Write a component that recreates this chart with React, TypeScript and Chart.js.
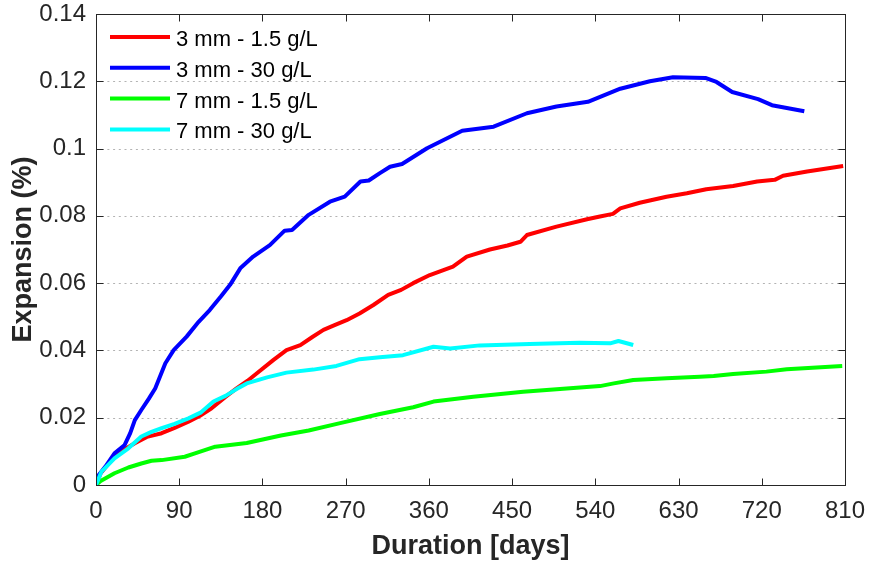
import { useEffect, useRef } from "react";
import { Chart, registerables } from "chart.js";

Chart.register(...registerables);

// Tick positions
const xTicks = [0, 90, 180, 270, 360, 450, 540, 630, 720, 810];
const yTicks = [0, 0.02, 0.04, 0.06, 0.08, 0.1, 0.12, 0.14];

// Series labels and colours
const seriesLabels = ["3 mm - 1.5 g/L", "3 mm - 30 g/L", "7 mm - 1.5 g/L", "7 mm - 30 g/L"];
const seriesColors = ["#ff0000", "#0000ff", "#00ff00", "#00ffff"];

// 3 mm - 1.5 g/L
const redDays = [0, 5, 12, 20, 30, 42, 55, 71, 85, 100, 112, 125, 140, 152, 164, 174, 192, 206, 221, 234, 246, 258, 271, 285, 300, 316, 330, 343, 361, 386, 401, 426, 445, 459, 466, 498, 531, 545, 559, 567, 588, 617, 639, 660, 689, 715, 734, 743, 769, 808];
const redExp = [0, 0.0035, 0.0058, 0.0082, 0.0105, 0.0124, 0.0143, 0.0154, 0.017, 0.0188, 0.0205, 0.0228, 0.0262, 0.0287, 0.031, 0.0332, 0.0372, 0.0401, 0.0416, 0.044, 0.0461, 0.0475, 0.049, 0.051, 0.0535, 0.0565, 0.058, 0.06, 0.0624, 0.0649, 0.0679, 0.07, 0.0712, 0.0723, 0.0743, 0.0768, 0.079, 0.0798, 0.0806, 0.0822, 0.0839, 0.0857, 0.0867, 0.0879, 0.0889, 0.0902, 0.0907, 0.0919, 0.0932, 0.0948];

// 3 mm - 30 g/L
const blueDays = [0, 3, 10, 20, 31, 37, 42, 49, 57, 64, 75, 84, 98, 111, 123, 135, 145, 156, 170, 188, 204, 212, 230, 253, 269, 286, 295, 307, 318, 331, 358, 396, 430, 466, 498, 532, 567, 599, 624, 659, 671, 688, 716, 731, 766];
const blueExp = [0, 0.003, 0.0054, 0.0094, 0.0119, 0.0154, 0.0193, 0.0223, 0.0256, 0.0287, 0.0362, 0.0401, 0.0441, 0.0485, 0.052, 0.056, 0.0595, 0.0644, 0.0679, 0.0713, 0.0756, 0.0758, 0.0803, 0.0842, 0.0857, 0.0902, 0.0905, 0.0927, 0.0946, 0.0954, 0.1001, 0.1053, 0.1065, 0.1105, 0.1125, 0.1139, 0.1178, 0.12, 0.1212, 0.121, 0.1198, 0.1168, 0.1147, 0.1129, 0.1111];

// 7 mm - 1.5 g/L
const greenDays = [0, 5, 20, 35, 49, 60, 71, 96, 107, 129, 163, 200, 230, 264, 307, 343, 365, 408, 462, 509, 545, 560, 581, 617, 653, 668, 689, 725, 747, 807];
const greenExp = [0, 0.0012, 0.0035, 0.0052, 0.0064, 0.0072, 0.0074, 0.0084, 0.0094, 0.0114, 0.0125, 0.0147, 0.0162, 0.0184, 0.0211, 0.0231, 0.0248, 0.0262, 0.0277, 0.0287, 0.0294, 0.0302, 0.0312, 0.0317, 0.0322, 0.0324, 0.033, 0.0337, 0.0344, 0.0354];

// 7 mm - 30 g/L
const cyanDays = [0, 6, 20, 35, 49, 60, 71, 85, 100, 113, 127, 140, 152, 163, 185, 206, 235, 260, 285, 307, 332, 365, 383, 415, 469, 523, 556, 565, 581];
const cyanExp = [0, 0.004, 0.0079, 0.0109, 0.0144, 0.0158, 0.0169, 0.0182, 0.0198, 0.0215, 0.0248, 0.0265, 0.0285, 0.0302, 0.032, 0.0334, 0.0343, 0.0354, 0.0374, 0.038, 0.0386, 0.0411, 0.0406, 0.0415, 0.0419, 0.0423, 0.0421, 0.0428, 0.0416];

const seriesDays = [redDays, blueDays, greenDays, cyanDays];
const seriesExp = [redExp, blueExp, greenExp, cyanExp];
// later series are drawn on top
const seriesOrder = [3, 2, 1, 0];

const FONT = "'Liberation Sans', Arial, Helvetica, sans-serif";
const AXIS_COLOR = "#262626";

const fmt = (v: number) => String(Number(v.toFixed(2)));

// dotted horizontal grid, boxed axes with inward ticks, and an inset legend
const framePlugin = {
  id: "frame",
  beforeDatasetsDraw(chart: any) {
    const { ctx, chartArea } = chart;
    const ys = chart.scales.y;
    ctx.save();
    ctx.strokeStyle = "rgba(38,38,38,0.35)";
    ctx.lineWidth = 1;
    ctx.setLineDash([2, 3.7]);
    for (const v of yTicks) {
      if (v === yTicks[0] || v === yTicks[yTicks.length - 1]) continue;
      const y = Math.round(ys.getPixelForValue(v)) + 0.5;
      ctx.beginPath();
      ctx.moveTo(chartArea.left, y);
      ctx.lineTo(chartArea.right, y);
      ctx.stroke();
    }
    ctx.restore();
  },
  afterDatasetsDraw(chart: any) {
    const { ctx, chartArea } = chart;
    const { left, right, top, bottom } = chartArea;
    const xs = chart.scales.x;
    const ys = chart.scales.y;
    const tl = 7;
    ctx.save();
    ctx.strokeStyle = AXIS_COLOR;
    ctx.lineWidth = 1;
    ctx.setLineDash([]);
    const L = Math.round(left) + 0.5;
    const R = Math.round(right) + 0.5;
    const T = Math.round(top) + 0.5;
    const B = Math.round(bottom) + 0.5;
    ctx.strokeRect(L, T, R - L, B - T);
    ctx.beginPath();
    for (const v of xTicks) {
      const x = Math.round(xs.getPixelForValue(v)) + 0.5;
      ctx.moveTo(x, B);
      ctx.lineTo(x, B - tl);
      ctx.moveTo(x, T);
      ctx.lineTo(x, T + tl);
    }
    for (const v of yTicks) {
      const y = Math.round(ys.getPixelForValue(v)) + 0.5;
      ctx.moveTo(L, y);
      ctx.lineTo(L + tl, y);
      ctx.moveTo(R, y);
      ctx.lineTo(R - tl, y);
    }
    ctx.stroke();

    // legend
    ctx.font = `22px ${FONT}`;
    ctx.textAlign = "left";
    ctx.textBaseline = "alphabetic";
    for (let i = 0; i < seriesLabels.length; i++) {
      const yLine = top + 23 + i * 30.8;
      ctx.strokeStyle = seriesColors[i];
      ctx.lineWidth = 4;
      ctx.beginPath();
      ctx.moveTo(left + 14, yLine);
      ctx.lineTo(left + 74, yLine);
      ctx.stroke();
      ctx.fillStyle = "#000000";
      ctx.fillText(seriesLabels[i], left + 80, yLine + 9);
    }
    ctx.restore();
  },
};

export default function App() {
  const canvasRef = useRef<HTMLCanvasElement | null>(null);

  useEffect(() => {
    const canvas = canvasRef.current;
    if (!canvas) return;
    const datasets = seriesLabels.map((label, i) => ({
      label,
      data: seriesDays[i].map((d, k) => ({ x: d, y: seriesExp[i][k] })),
      borderColor: seriesColors[i],
      backgroundColor: seriesColors[i],
      borderWidth: 4,
      pointRadius: 0,
      tension: 0,
      fill: false,
      borderJoinStyle: "round" as const,
      order: seriesOrder[i],
    }));

    const chart = new Chart(canvas, {
      type: "line",
      data: { datasets },
      plugins: [framePlugin],
      options: {
        responsive: false,
        animation: false,
        layout: { padding: { top: 14, right: 24, left: 0, bottom: 0 } },
        plugins: { legend: { display: false }, tooltip: { enabled: false } },
        scales: {
          x: {
            type: "linear",
            min: 0,
            max: 810,
            afterBuildTicks: (s: any) => {
              s.ticks = xTicks.map((v) => ({ value: v }));
            },
            afterFit: (s: any) => {
              s.height = 78;
              s.paddingLeft = 0;
              s.paddingRight = 0;
            },
            ticks: {
              color: AXIS_COLOR,
              font: { family: FONT, size: 24 },
              padding: 12,
              maxRotation: 0,
              autoSkip: false,
              callback: (v: any) => String(v),
            },
            grid: { display: false, drawTicks: false },
            border: { display: false },
            title: {
              display: true,
              text: "Duration [days]",
              color: AXIS_COLOR,
              font: { family: FONT, size: 27, weight: "bold" },
              padding: { top: 0, bottom: 0 },
            },
          },
          y: {
            type: "linear",
            min: 0,
            max: 0.14,
            afterBuildTicks: (s: any) => {
              s.ticks = yTicks.map((v) => ({ value: v }));
            },
            afterFit: (s: any) => {
              s.width = 96;
              s.paddingTop = 0;
              s.paddingBottom = 0;
            },
            ticks: {
              color: AXIS_COLOR,
              font: { family: FONT, size: 24 },
              padding: 10,
              autoSkip: false,
              callback: (v: any) => fmt(Number(v)),
            },
            grid: { display: false, drawTicks: false },
            border: { display: false },
            title: {
              display: true,
              text: "Expansion (%)",
              color: AXIS_COLOR,
              font: { family: FONT, size: 27, weight: "bold" },
              padding: { top: 7, bottom: 0 },
            },
          },
        },
      },
    });
    return () => chart.destroy();
  }, []);

  return (
    <div style={{ position: "fixed", left: 0, top: 0, width: 869, height: 563, background: "#ffffff" }}>
      <canvas ref={canvasRef} width={869} height={563} style={{ width: 869, height: 563, display: "block" }} />
    </div>
  );
}
